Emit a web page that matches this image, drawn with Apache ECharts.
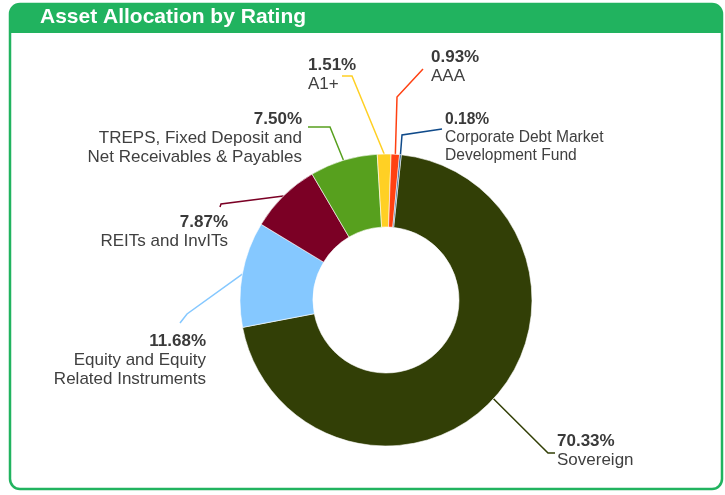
<!DOCTYPE html>
<html>
<head>
<meta charset="utf-8">
<script src="https://cdn.jsdelivr.net/npm/echarts@6/dist/echarts.min.js"></script>
<style>
html, body { margin: 0; padding: 0; background: #fff; }
#chart { width: 725px; height: 495px; }
</style>
</head>
<body>
<div id="chart"></div>
<script>
// data, clockwise from the start of Sovereign
var categories = ['Sovereign', 'Equity and Equity\nRelated Instruments', 'REITs and InvITs',
    'TREPS, Fixed Deposit and\nNet Receivables & Payables', 'A1+', 'AAA',
    'Corporate Debt Market\nDevelopment Fund'];
var shares = [70.33, 11.68, 7.87, 7.50, 1.51, 0.93, 0.18];
var shareLabels = ['70.33%', '11.68%', '7.87%', '7.50%', '1.51%', '0.93%', '0.18%'];
var colors = ['#323f06', '#85c8ff', '#7b0025', '#57a01e', '#ffd024', '#ff4112', '#0f4a8a'];

// where each label sits and how its guide line bends (elbow, end)
var labelSpots = [
    {x: 557, y: 431.5, align: 'left', small: false, elbow: [548, 453], end: [555, 453]},
    {x: 206, y: 332, align: 'right', small: false, elbow: [187, 314], end: [180, 323]},
    {x: 228, y: 212.5, align: 'right', small: false, elbow: [221, 204], end: [220, 207]},
    {x: 302, y: 109.5, align: 'right', small: false, elbow: [330, 127], end: [308, 127]},
    {x: 308, y: 55.5, align: 'left', small: false, elbow: [352, 76], end: [342, 76]},
    {x: 431, y: 47.5, align: 'left', small: false, elbow: [397, 97], end: [423, 69]},
    {x: 445, y: 111, align: 'left', small: true, elbow: [402, 135], end: [442, 129]}
];

var green = '#21b35f';
var font = 'Liberation Sans, Arial, sans-serif';
var chart = echarts.init(document.getElementById('chart'));

var seriesData = categories.map(function (name, i) {
    return {
        name: name,
        value: shares[i],
        itemStyle: {color: colors[i]},
        labelLine: {lineStyle: {color: colors[i]}}
    };
});

var option = {
    backgroundColor: '#fff',
    animation: false,
    graphic: [
        {
            type: 'rect',
            shape: {x: 10, y: 4, width: 712, height: 485, r: 10},
            style: {fill: '#fff', stroke: green, lineWidth: 2.5}
        },
        {
            type: 'rect',
            shape: {x: 10, y: 4, width: 712, height: 29, r: [10, 10, 0, 0]},
            style: {fill: green}
        }
    ],
    title: {
        text: 'Asset Allocation by Rating',
        left: 40,
        top: 7,
        padding: 0,
        textStyle: {
            color: '#fff',
            fontFamily: font,
            fontWeight: 'bold',
            fontSize: 21
        }
    },
    series: [
        {
            type: 'pie',
            center: [386, 300],
            radius: [73, 146],
            startAngle: 84,
            clockwise: true,
            avoidLabelOverlap: false,
            itemStyle: {borderColor: '#fff', borderWidth: 0.6},
            label: {
                show: true,
                position: 'outside',
                formatter: function (p) {
                    var sm = labelSpots[p.dataIndex].small ? 's' : '';
                    return '{p' + sm + '|' + shareLabels[p.dataIndex] + '}\n{n' + sm + '|' + p.name + '}';
                },
                rich: {
                    p: {fontFamily: font, fontWeight: 'bold', fontSize: 17, lineHeight: 19, color: '#3a3a3a'},
                    n: {fontFamily: font, fontSize: 17, lineHeight: 19, color: '#404040'},
                    ps: {fontFamily: font, fontWeight: 'bold', fontSize: 15.6, lineHeight: 18, color: '#3a3a3a'},
                    ns: {fontFamily: font, fontSize: 15.6, lineHeight: 18, color: '#404040'}
                }
            },
            labelLine: {show: true, length: 10, length2: 10, lineStyle: {width: 1.5}},
            labelLayout: function (params) {
                var s = labelSpots[params.dataIndex];
                var start = params.labelLinePoints ? params.labelLinePoints[0] : s.elbow;
                return {
                    x: s.x,
                    y: s.y,
                    align: s.align,
                    verticalAlign: 'top',
                    labelLinePoints: [start, s.elbow, s.end]
                };
            },
            emphasis: {disabled: true},
            data: seriesData
        }
    ]
};
chart.setOption(option);
</script>
</body>
</html>
